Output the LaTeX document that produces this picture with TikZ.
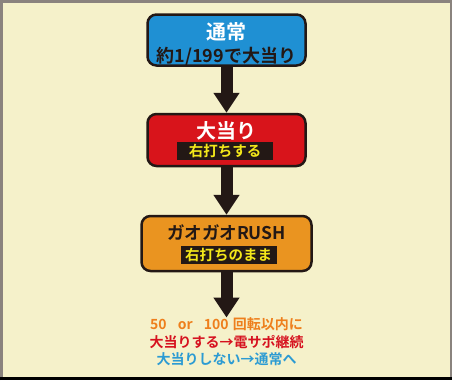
\documentclass[tikz,border=0pt]{standalone}
\usepackage{fontspec}
\setmainfont{Noto Sans CJK JP}[BoldFont={Noto Sans CJK JP Bold}]
\usetikzlibrary{arrows.meta}
\definecolor{bgcream}{HTML}{F5F1CA}
\definecolor{framegrey}{HTML}{8A837E}
\definecolor{inkblack}{HTML}{231815}
\definecolor{tsujoblue}{HTML}{1F90D3}
\definecolor{oatarired}{HTML}{D8141B}
\definecolor{rushorange}{HTML}{EA9420}
\definecolor{bandyellow}{HTML}{F3E71A}
\definecolor{txtorange}{HTML}{EE7F1C}
\definecolor{txtred}{HTML}{D6121F}
\definecolor{txtblue}{HTML}{2C9BD3}
\begin{document}
\begin{tikzpicture}[x=1pt, y=-1pt,
	box/.style={draw=inkblack, line width=2.5pt, rounded corners=9pt},
	title/.style={inner sep=0pt, font=\fontsize{20}{22}\selectfont\bfseries},
	band/.style={fill=inkblack, text=bandyellow, inner sep=0pt, minimum width=96pt, minimum height=18pt, font=\fontsize{14.5}{16}\selectfont\bfseries},
	bigarrow/.style={draw=inkblack, line width=12pt, -{Triangle[length=20pt,width=25pt]}}]
	\useasboundingbox (0,0) rectangle (452,380);
	% Background and frame
	\fill[bgcream] (0,0) rectangle (452,380);
	\draw[framegrey, line width=2.5pt] (1.25,380) -- (1.25,1.25) -- (450.75,1.25) -- (450.75,380);
	\draw[black, line width=3pt] (0,378.5) -- (452,378.5);
	
	% Boxes
	\node[box, fill=tsujoblue, minimum width=158pt, minimum height=51pt] (tsujo) at (226.5,40) {};
	\node[title, text=white] (tsujotitle) at (226.5,31.5) {通常};
	\node[title, text=inkblack, font=\fontsize{18}{20}\selectfont\bfseries] (tsujoprob) at (226.5,56) {約1/199で大当り};
	
	\node[box, fill=oatarired, minimum width=158pt, minimum height=52pt] (oatari) at (226.5,140) {};
	\node[title, text=white] (oatarititle) at (226.5,131) {大当り};
	\node[band] (oatariband) at (225,151) {右打ちする};
	
	\node[box, fill=rushorange, minimum width=170pt, minimum height=55pt] (rush) at (226.5,243.5) {};
	\node[title, text=inkblack, font=\fontsize{17.5}{20}\selectfont\bfseries] (rushtitle) at (226.5,233) {ガオガオRUSH};
	\node[band] (rushband) at (228.5,254.5) {右打ちのまま};
	
	% Result text
	\node[anchor=north, align=center, inner sep=0pt, font=\fontsize{14}{17.5}\selectfont\bfseries] (kekka) at (226.5,317.5) {%
		\textcolor{txtorange}{50\hspace{0.8em}or\hspace{0.8em}100\hspace{0.3em}回転以内に}\\
		\textcolor{txtred}{大当りする→電サポ継続}\\
		\textcolor{txtblue}{大当りしない→通常へ}};
	
	% Arrows
	\draw[bigarrow] (tsujo.south) -- (oatari.north);
	\draw[bigarrow] (oatari.south) -- (rush.north);
	\draw[bigarrow] (rush.south) -- (kekka.north);
\end{tikzpicture}
\end{document}
